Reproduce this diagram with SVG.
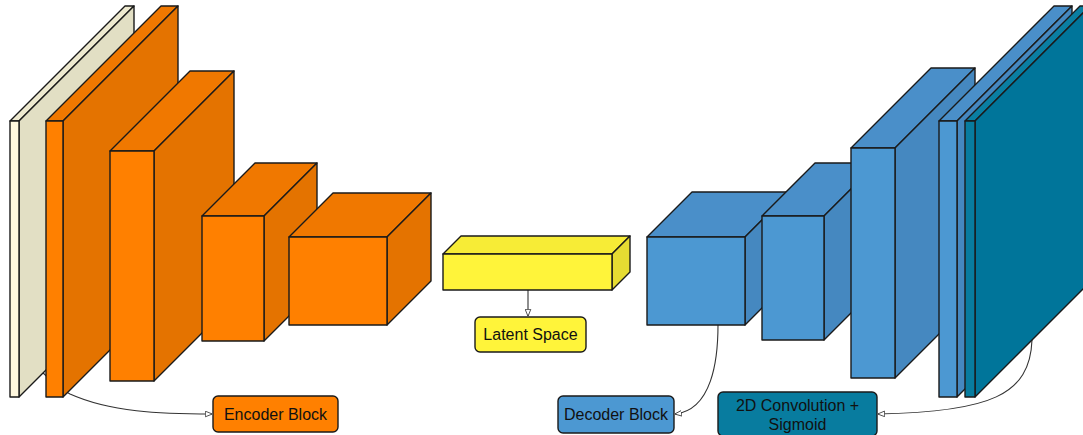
<svg xmlns="http://www.w3.org/2000/svg" width="1083" height="435" viewBox="0 0 1083 435">
<defs>
<style>
.e{stroke:#1a1a1a;stroke-width:1.4;stroke-linejoin:round}
.c{fill:none;stroke:#333;stroke-width:1.1}
.lbl{font-family:"Liberation Sans",Arial,sans-serif;font-size:16px;fill:#111;text-anchor:middle}
.cf{fill:#FFF8DE}.cs{fill:#E2DFC4}.ct{fill:#EEEAD0}
.of{fill:#FF8000}.os{fill:#E47300}.ot{fill:#F07800}
.yf{fill:#FFF43A}.ys{fill:#E6DC32}.yt{fill:#F7EC36}
.bf{fill:#4C98D2}.bs{fill:#4588C0}.bt{fill:#4A8FC9}
.tf{fill:#087C9F}.ts{fill:#00759A}.tt{fill:#0A7EA2}
</style>
<marker id="ah" viewBox="0 0 10 10" refX="9.5" refY="5" markerWidth="7" markerHeight="7" orient="auto" markerUnits="userSpaceOnUse">
<path d="M0,1 L10,5 L0,9 Z" fill="#fff" stroke="#333" stroke-width="1.2"/>
</marker>
</defs>
<rect width="1083" height="435" fill="#fff"/>
<g id="connectors">
<path class="c" d="M40,370 C55,385 62,390 70,394 C110,412 160,414 212,414" marker-end="url(#ah)"/>
<path class="c" d="M528,290 L528,316" marker-end="url(#ah)"/>
<path class="c" d="M718,325 C718,360 712,410 675,414" marker-end="url(#ah)"/>
<path class="c" d="M1032,340 C1030,395 990,412 878,414" marker-end="url(#ah)"/>
</g>
<g id="input">
<polygon class="e ct" points="10,121 125,6 134,6 19,121"/>
<polygon class="e cs" points="19,121 134,6 134,282 19,397"/>
<rect class="e cf" x="10" y="121" width="9" height="276"/>
</g>
<g id="enc1">
<polygon class="e ot" points="46,121 161,6 178,6 63,121"/>
<polygon class="e os" points="63,121 178,6 178,282 63,397"/>
<rect class="e of" x="46" y="121" width="17" height="276"/>
</g>
<g id="enc2">
<polygon class="e ot" points="110,151 190,71 234,71 154,151"/>
<polygon class="e os" points="154,151 234,71 234,301 154,381"/>
<rect class="e of" x="110" y="151" width="44" height="230"/>
</g>
<g id="enc3">
<polygon class="e ot" points="202,216 255,163 317,163 264,216"/>
<polygon class="e os" points="264,216 317,163 317,288 264,341"/>
<rect class="e of" x="202" y="216" width="62" height="125"/>
</g>
<g id="enc4">
<polygon class="e ot" points="289,237 333,193 431,193 387,237"/>
<polygon class="e os" points="387,237 431,193 431,281 387,325"/>
<rect class="e of" x="289" y="237" width="98" height="88"/>
</g>
<g id="latent">
<polygon class="e yt" points="443,254 461,236 630,236 612,254"/>
<polygon class="e ys" points="612,254 630,236 630,272 612,290"/>
<rect class="e yf" x="443" y="254" width="169" height="36"/>
</g>
<g id="dec1">
<polygon class="e bt" points="647,237 692,192 790,192 745,237"/>
<polygon class="e bs" points="745,237 790,192 790,280 745,325"/>
<rect class="e bf" x="647" y="237" width="98" height="88"/>
</g>
<g id="dec2">
<polygon class="e bt" points="762,216 815,163 877,163 824,216"/>
<polygon class="e bs" points="824,216 877,163 877,287 824,340"/>
<rect class="e bf" x="762" y="216" width="62" height="124"/>
</g>
<g id="dec3">
<polygon class="e bt" points="851,148 931,68 975,68 895,148"/>
<polygon class="e bs" points="895,148 975,68 975,298 895,378"/>
<rect class="e bf" x="851" y="148" width="44" height="230"/>
</g>
<g id="dec4">
<polygon class="e bt" points="939,121 1054,6 1072,6 957,121"/>
<polygon class="e bs" points="957,121 1072,6 1072,282 957,397"/>
<rect class="e bf" x="939" y="121" width="18" height="276"/>
</g>
<g id="output">
<polygon class="e tt" points="965,121 1080,6 1090,6 975,121"/>
<polygon class="e ts" points="975,121 1090,6 1090,282 975,397"/>
<rect class="e tf" x="965" y="121" width="10" height="276"/>
</g>
<g id="latent-label">
<rect class="e yf" x="475" y="317" width="111" height="35" rx="5"/>
<text class="lbl" x="530.5" y="340">Latent Space</text>
</g>
<g id="encoder-label">
<rect class="e of" x="213" y="396" width="125" height="36" rx="5"/>
<text class="lbl" x="275.5" y="419.5">Encoder Block</text>
</g>
<g id="decoder-label">
<rect class="e bf" x="558" y="396" width="116" height="37" rx="5"/>
<text class="lbl" x="616" y="420">Decoder Block</text>
</g>
<g id="conv-label">
<rect class="e tf" x="718" y="392" width="159" height="44" rx="5"/>
<text class="lbl" x="797.5" y="411">2D Convolution +</text>
<text class="lbl" x="797.5" y="430">Sigmoid</text>
</g>
</svg>
